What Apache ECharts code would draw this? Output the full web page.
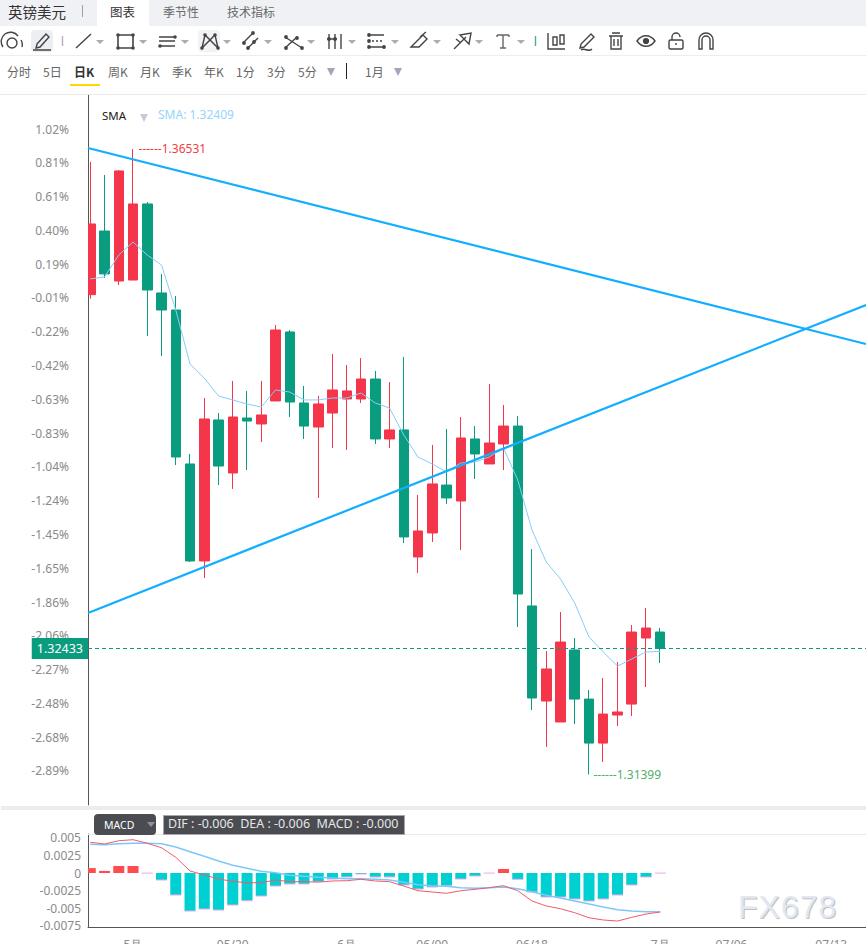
<!DOCTYPE html>
<html lang="zh">
<head>
<meta charset="utf-8">
<title>英镑美元</title>
<script src="https://cdn.jsdelivr.net/npm/echarts@6/dist/echarts.min.js"></script>
<style>
  html, body { margin: 0; padding: 0; background: #fff; overflow: hidden; }
  body { width: 866px; height: 944px; position: relative; font-family: "Noto Sans CJK SC", "Noto Sans", sans-serif; }
  #chart { position: absolute; left: 0; top: 0; width: 866px; height: 944px; }
  .t { position: absolute; white-space: nowrap; line-height: 1; }
  .bar { position: absolute; }
</style>
</head>
<body>
<div id="chart"></div>

<!-- tab strip -->
<div class="bar" style="left:0;top:0;width:866px;height:26px;background:#f0f1f5"></div>
<div class="bar" style="left:97px;top:0;width:52px;height:26px;background:#fff"></div>
<div class="bar" style="left:82px;top:5px;width:1px;height:12px;background:#9aa0ad"></div>
<div class="t" style="left:8px;top:5px;font-size:14.5px;color:#333">英镑美元</div>
<div class="t" style="left:110px;top:6px;font-size:12.5px;color:#333">图表</div>
<div class="t" style="left:163px;top:6px;font-size:12px;color:#666">季节性</div>
<div class="t" style="left:227px;top:6px;font-size:12px;color:#666">技术指标</div>

<!-- drawing tools -->
<svg class="bar" style="left:0;top:26px" width="866" height="30" viewBox="0 26 866 30" fill="none" stroke="#444" stroke-width="1.4">
  <rect x="31" y="30" width="22" height="22" rx="4" fill="#eceef3" stroke="none"/>
  <rect x="198" y="30" width="22" height="22" rx="4" fill="#f1f2f5" stroke="none"/>
  <circle cx="12" cy="43" r="5"/><path d="M3 47a9 9 0 0 1 15-11M21 40a9 9 0 0 1 1 7"/>
  <path d="M37 44l9-10 3 3-9 10-4 1zM33 50h18"/>
  <path d="M62.5 36v10" stroke="#b9a9c9"/>
  <path d="M76 48l15-14"/>
  <path d="M118 35h15v13h-15z" stroke-width="1.6"/>
  <path d="M159 37h16M159 41h16M159 46h16"/>
  <path d="M202 48l3-13 13 13-3-13-13 13z"/>
  <path d="M243 43l10-10M248 48l10-10"/>
  <path d="M285 37l17 11M285 48l12-11"/>
  <path d="M329 34v15M335 34v15M341 34v15M327 39h10"/>
  <path d="M368 41h16" stroke-dasharray="2 2"/><path d="M368 47h16M368 35h16"/>
  <path d="M411 47h8l8-8-4-4-8 8zM420 37l6-5"/>
  <path d="M454 49l12-12M460 35l11-2-2 11zM456 39l5 4"/>
  <path d="M497 35h12M503 35v13M500 48h6M497 35v2M509 35v2" stroke="#666"/>
  <path d="M535.5 36v10" stroke="#4caf8a"/>
  <path d="M548 33v16h17M553 37h4v8h-4zM560 35h4v9h-4z"/>
  <path d="M580 48l1-4 10-10 3 3-10 10zM581 50c4-3 7 3 11-1"/>
  <path d="M609 36h14M612 33h8M611 36v13h10V36M614 39v7M618 39v7"/>
  <path d="M637 41c5-7 13-7 18 0-5 7-13 7-18 0z"/><circle cx="646" cy="41" r="2.4" fill="#444"/>
  <rect x="669" y="40" width="14" height="9" rx="1.5"/><path d="M672 40v-3a4 4 0 0 1 8 0M676 43v2"/>
  <path d="M699 49V40a7 7 0 0 1 14 0v9h-3v-9a4 4 0 0 0-8 0v9z"/>
  <g fill="#444" stroke="none">
    <circle cx="118" cy="35" r="1.8"/><circle cx="133" cy="35" r="1.8"/><circle cx="118" cy="48" r="1.8"/><circle cx="133" cy="48" r="1.8"/>
    <circle cx="160" cy="46" r="1.8"/><circle cx="175" cy="37" r="1.8"/>
    <circle cx="202" cy="48" r="1.8"/><circle cx="205" cy="35" r="1.8"/><circle cx="215" cy="35" r="1.8"/><circle cx="218" cy="48" r="1.8"/>
    <circle cx="253" cy="33" r="1.9"/><circle cx="254" cy="42" r="1.9"/><circle cx="244" cy="43" r="1.9"/><circle cx="248" cy="48" r="1.9"/>
    <circle cx="286" cy="37" r="1.9"/><circle cx="302" cy="48" r="1.9"/><circle cx="286" cy="48" r="1.9"/><circle cx="297" cy="38" r="1.9"/>
    <circle cx="329" cy="39" r="1.9"/><circle cx="335" cy="39" r="1.9"/>
    <circle cx="369" cy="35" r="1.9"/><circle cx="369" cy="41" r="1.9"/><circle cx="369" cy="47" r="1.9"/><circle cx="384" cy="47" r="1.9"/>
  </g>
  <g fill="#a9aaba" stroke="none">
    <path d="M96 40h8l-4 4zM139 40h8l-4 4zM181 40h8l-4 4zM223 40h8l-4 4zM264 40h8l-4 4zM307 40h8l-4 4zM348 40h8l-4 4zM391 40h8l-4 4zM433 40h8l-4 4zM475 40h8l-4 4zM517 40h8l-4 4z"/>
  </g>
</svg>
<div class="bar" style="left:0;top:55px;width:866px;height:1px;background:#eceded"></div>

<!-- period strip -->
<div class="t" style="left:7px;top:66px;font-size:12px;color:#666">分时</div>
<div class="t" style="left:43px;top:66px;font-size:12px;color:#666">5日</div>
<div class="t" style="left:74px;top:66px;font-size:12px;color:#333;font-weight:700">日K</div>
<div class="bar" style="left:70px;top:84px;width:30px;height:2px;background:#ffd700"></div>
<div class="t" style="left:108px;top:66px;font-size:12px;color:#666">周K</div>
<div class="t" style="left:140px;top:66px;font-size:12px;color:#666">月K</div>
<div class="t" style="left:172px;top:66px;font-size:12px;color:#666">季K</div>
<div class="t" style="left:204px;top:66px;font-size:12px;color:#666">年K</div>
<div class="t" style="left:236px;top:66px;font-size:12px;color:#666">1分</div>
<div class="t" style="left:267px;top:66px;font-size:12px;color:#666">3分</div>
<div class="t" style="left:298px;top:66px;font-size:12px;color:#666">5分</div>
<div class="t" style="left:365px;top:66px;font-size:12px;color:#666">1月</div>
<div class="bar" style="left:346px;top:63px;width:1px;height:16px;background:#222"></div>
<svg class="bar" style="left:0;top:60px" width="420" height="24" viewBox="0 60 420 24" fill="#a3a6b8">
  <path d="M327 68h8l-4 8zM394 68h8l-4 8z"/>
</svg>
<div class="bar" style="left:0;top:94px;width:866px;height:1px;background:#e9e9ec"></div>

<!-- indicator captions -->
<div class="t" style="left:102px;top:110px;font-size:11.5px;color:#222;font-family:'Noto Sans'">SMA</div>
<svg class="bar" style="left:139px;top:113px" width="10" height="9" fill="#c6cbd8"><path d="M1 1h8l-4 8z"/></svg>
<div class="t" style="left:158px;top:109px;font-size:12px;color:#95d4fb;font-family:'Noto Sans'">SMA: 1.32409</div>

<div class="bar" style="left:1px;top:806px;width:865px;height:4px;background:#ececec"></div>
<div class="bar" style="left:88px;top:834px;width:778px;height:1px;background:#eaeaea"></div>
<div class="bar" style="left:94px;top:814px;width:62px;height:21px;background:#4a4c52;border-radius:4px"></div>
<div class="t" style="left:104px;top:820px;font-size:10.5px;color:#fff;font-family:'Noto Sans'">MACD</div>
<svg class="bar" style="left:147px;top:822px" width="8" height="5" fill="#8f929b"><path d="M0 0h8l-4 5z"/></svg>
<div class="bar" style="left:163px;top:815px;width:240px;height:18px;background:#4a4c52;border:1px solid #a6a8ad"></div>
<div class="t" style="left:168px;top:818px;font-size:12.5px;color:#e6e6e8;font-family:'Noto Sans';white-space:pre">DIF : -0.006  DEA : -0.006  MACD : -0.000</div>

<!-- site mark -->
<div class="t" style="left:738px;top:891px;font-size:32px;font-family:'Liberation Sans';letter-spacing:1px;color:#dfe9f6;text-shadow:1px 1px 0 #c9beb2">FX678</div>

<script>
// Bar positions: each candle sits at its own index on the shared x scale.
const opens = [1.35336,1.35858,1.35448,1.35456,1.36080,1.35350,1.35210,1.33947,1.33151,1.34308,1.33873,1.34324,1.34275,1.34464,1.35030,1.34447,1.34250,1.34365,1.34480,1.34480,1.34644,1.34152,1.34226,1.33184,1.33381,1.33774,1.33643,1.34152,1.33947,1.34111,1.34258,1.32782,1.32002,1.31830,1.32421,1.32018,1.31657,1.31887,1.31977,1.32519,1.32568];
const closes = [1.35916,1.35506,1.36351,1.36080,1.35374,1.35210,1.34004,1.33151,1.34316,1.33930,1.34332,1.34299,1.34349,1.35046,1.34455,1.34258,1.34439,1.34554,1.34546,1.34644,1.34152,1.34226,1.33348,1.33397,1.33783,1.33668,1.34160,1.34029,1.34119,1.34258,1.32880,1.32027,1.32265,1.32486,1.32018,1.31657,1.31895,1.31912,1.32568,1.32601,1.32433];
const lows = [1.35303,1.35473,1.35415,1.35456,1.34997,1.34833,1.33938,1.33143,1.33011,1.33774,1.33742,1.33897,1.34127,1.34464,1.34332,1.34152,1.33668,1.34078,1.34062,1.34447,1.34111,1.34078,1.33298,1.33052,1.33307,1.33618,1.33241,1.33824,1.33947,1.33897,1.32609,1.31928,1.31625,1.31830,1.31813,1.31399,1.31502,1.31797,1.31879,1.32117,1.32314];
const highs = [1.36425,1.36318,1.36359,1.36531,1.36096,1.35506,1.35325,1.34029,1.34488,1.34365,1.34628,1.34546,1.34628,1.35087,1.35046,1.34587,1.34505,1.34849,1.34759,1.34816,1.34710,1.34619,1.34825,1.33692,1.34103,1.34234,1.34332,1.34258,1.34603,1.34431,1.34340,1.33249,1.32412,1.32732,1.32519,1.32092,1.32191,1.32322,1.32626,1.32765,1.32601];
const smaValues = [1.35465,1.35481,1.35661,1.35768,1.35661,1.35579,1.35210,1.34767,1.34652,1.34505,1.34472,1.34439,1.34414,1.34554,1.34537,1.34472,1.34472,1.34488,1.34488,1.34529,1.34447,1.34406,1.34185,1.34004,1.33947,1.33881,1.33955,1.33963,1.34004,1.34078,1.33815,1.33405,1.33143,1.33003,1.32806,1.32527,1.32404,1.32289,1.32347,1.32404,1.32409];

const macdBars = [0.0007,0.0003,0.001,0.001,-0.00001,-0.001,-0.00314,-0.00543,-0.00514,-0.00529,-0.00457,-0.00396,-0.00329,-0.00186,-0.00157,-0.00157,-0.00124,-0.00086,-0.00057,-0.00014,-0.00057,-0.00057,-0.00171,-0.00229,-0.002,-0.00181,-0.00086,-0.00043,-0.00001,0.00057,-0.0009,-0.00271,-0.00343,-0.00343,-0.00371,-0.004,-0.00371,-0.00314,-0.00171,-0.00057,-0.00001];
const difValues = [0.00439,0.00414,0.00461,0.00476,0.00424,0.00361,0.00224,0.00029,-0.00029,-0.00086,-0.00119,-0.00139,-0.00139,-0.001,-0.00124,-0.00124,-0.00129,-0.00114,-0.0011,-0.0009,-0.00114,-0.00124,-0.00186,-0.00253,-0.00271,-0.0029,-0.00253,-0.00233,-0.0021,-0.00181,-0.00253,-0.004,-0.00471,-0.0051,-0.00567,-0.00639,-0.00671,-0.00686,-0.00633,-0.00586,-0.00557];
const deaValues = [0.0041,0.00404,0.00419,0.00424,0.00424,0.00419,0.00371,0.00304,0.00239,0.00171,0.0011,0.00067,0.00024,0.00004,-0.00033,-0.00047,-0.00061,-0.00071,-0.00081,-0.00081,-0.0009,-0.001,-0.00133,-0.00167,-0.00181,-0.0019,-0.0021,-0.00219,-0.0021,-0.002,-0.00224,-0.00267,-0.00319,-0.00357,-0.004,-0.00443,-0.00486,-0.00524,-0.00543,-0.00553,-0.00553];

// Two hand-drawn trend lines, each given by its ends in (bar index, price).
const trendFalling = [[-0.16,1.36539],[54.44,1.34931]];
const trendRising = [[-0.16,1.32724],[54.44,1.35251]];

const priceTicks = [1.36695,1.36418,1.36141,1.35863,1.35586,1.35309,1.35032,1.34755,1.34477,1.34200,1.33923,1.33646,1.33369,1.33091,1.32814,1.32537,1.32260,1.31983,1.31705,1.31428];
const priceTickLabels = ['1.02%','0.81%','0.61%','0.40%','0.19%','-0.01%','-0.22%','-0.42%','-0.63%','-0.83%','-1.04%','-1.24%','-1.45%','-1.65%','-1.86%','-2.06%','-2.27%','-2.48%','-2.68%','-2.89%'];
const macdTicks = [0.005,0.0025,0,-0.0025,-0.005,-0.0075];
const timeTicks = [3,10,18,24,31,40,45,52];
const timeTickLabels = ['5月','05/20','6月','06/09','06/18','7月','07/06','07/13'];
const lastPrice = 1.32433;
const highestPrice = 1.36531, highestBar = 3;
const lowestPrice = 1.31399, lowestBar = 35;
const xMin = -0.16, xMax = 54.44;

const UP = '#f53549', DOWN = '#0a9c7f', TREND = '#12aeff';
const LABEL = { color: '#8a8a8a', fontSize: 12, fontFamily: 'Noto Sans' };
const byBar = arr => arr.map((v, i) => [i, v]);

const chart = echarts.init(document.getElementById('chart'), null, { renderer: 'svg' });
chart.setOption({
  animation: false,
  backgroundColor: '#fff',
  grid: [
    { left: 88, right: 0, top: 95, height: 710, outerBoundsMode: 'none' },
    { left: 88, right: 0, top: 834, height: 93, outerBoundsMode: 'none' }
  ],
  // the first candle and histogram bar hang past the axis; their overhang is trimmed here
  graphic: [
    { type: 'rect', z: 100, silent: true, shape: { x: 83, y: 210, width: 5, height: 100 }, style: { fill: '#fff' } },
    { type: 'rect', z: 100, silent: true, shape: { x: 82, y: 862, width: 6, height: 12 }, style: { fill: '#fff' } }
  ],
  xAxis: [
    { type: 'value', gridIndex: 0, min: xMin, max: xMax, axisLine: { show: false }, axisTick: { show: false }, axisLabel: { show: false }, splitLine: { show: false } },
    {
      type: 'value', gridIndex: 1, min: xMin, max: xMax,
      axisLine: { show: true, onZero: false, lineStyle: { color: '#555' } },
      axisTick: { show: false },
      splitLine: { show: false },
      axisLabel: Object.assign({}, LABEL, {
        margin: 11,
        customValues: timeTicks,
        formatter: v => timeTickLabels[timeTicks.indexOf(v)]
      })
    }
  ],
  yAxis: [
    {
      type: 'value', gridIndex: 0, min: 1.31149, max: 1.36974,
      axisLine: { show: true, onZero: false, lineStyle: { color: '#555' } },
      axisTick: { show: false },
      splitLine: { show: false },
      axisLabel: Object.assign({}, LABEL, {
        margin: 19,
        customValues: priceTicks,
        formatter: v => priceTickLabels[priceTicks.indexOf(v)]
      })
    },
    {
      type: 'value', gridIndex: 1, min: -0.00771, max: 0.00557,
      axisLine: { show: true, onZero: false, lineStyle: { color: '#555' } },
      axisTick: { show: false },
      splitLine: { show: false },
      axisLabel: Object.assign({}, LABEL, {
        margin: 7,
        customValues: macdTicks,
        formatter: v => String(v)
      })
    }
  ],
  series: [
    {
      type: 'candlestick',
      xAxisIndex: 0, yAxisIndex: 0,
      barWidth: 10,
      encode: { x: 0, y: [1, 2, 3, 4] },
      data: opens.map((o, i) => [i, o, closes[i], lows[i], highs[i]]),
      itemStyle: { color: UP, color0: DOWN, borderColor: UP, borderColor0: DOWN, borderWidth: 1 },
      markLine: {
        silent: true, symbol: 'none', animation: false,
        lineStyle: { color: DOWN, type: [4, 3], width: 1 },
        label: {
          position: 'start', distance: 0, formatter: lastPrice.toFixed(5),
          color: '#fff', fontSize: 12.5, fontFamily: 'Noto Sans',
          backgroundColor: DOWN, padding: [4, 5, 4, 5], lineHeight: 13
        },
        data: [[
          { coord: [xMin, lastPrice], lineStyle: { color: DOWN, type: [4, 3], width: 1 } },
          { coord: [xMax, lastPrice] }
        ]]
      },
      markPoint: {
        silent: true, animation: false, symbol: 'circle', symbolSize: 1,
        itemStyle: { color: 'rgba(0,0,0,0)' },
        label: { show: true, position: 'right', fontSize: 12, fontFamily: 'Noto Sans' },
        data: [
          { coord: [highestBar, highestPrice], label: { distance: 5, formatter: '------' + highestPrice.toFixed(5), color: '#f0403f' } },
          { coord: [lowestBar, lowestPrice], label: { distance: 4, formatter: '------' + lowestPrice.toFixed(5), color: '#4fb06a' } }
        ]
      }
    },
    { type: 'line', xAxisIndex: 0, yAxisIndex: 0, data: byBar(smaValues), showSymbol: false, lineStyle: { color: '#86cdfb', width: 1 }, z: 3 },
    { type: 'line', xAxisIndex: 0, yAxisIndex: 0, data: trendFalling, showSymbol: false, lineStyle: { color: TREND, width: 2.2 }, z: 4 },
    { type: 'line', xAxisIndex: 0, yAxisIndex: 0, data: trendRising, showSymbol: false, lineStyle: { color: TREND, width: 2.2 }, z: 4 },
    {
      type: 'bar', xAxisIndex: 1, yAxisIndex: 1, barWidth: 11,
      data: byBar(macdBars),
      itemStyle: { color: p => (p.value[1] >= 0 ? '#ff4d4f' : '#00d0d2') }
    },
    {
      // thin cap along the lower edge of the falling histogram bars
      type: 'scatter', xAxisIndex: 1, yAxisIndex: 1,
      symbol: 'rect', symbolSize: [11, 1],
      data: byBar(macdBars).filter(d => d[1] < 0),
      itemStyle: { color: '#f3a9e6', opacity: 1 }, z: 3
    },
    { type: 'line', xAxisIndex: 1, yAxisIndex: 1, data: byBar(deaValues), showSymbol: false, lineStyle: { color: '#7cc8fb', width: 1.5 }, z: 4 },
    { type: 'line', xAxisIndex: 1, yAxisIndex: 1, data: byBar(difValues), showSymbol: false, lineStyle: { color: '#ef5b68', width: 1 }, z: 5 }
  ]
});
</script>
</body>
</html>
